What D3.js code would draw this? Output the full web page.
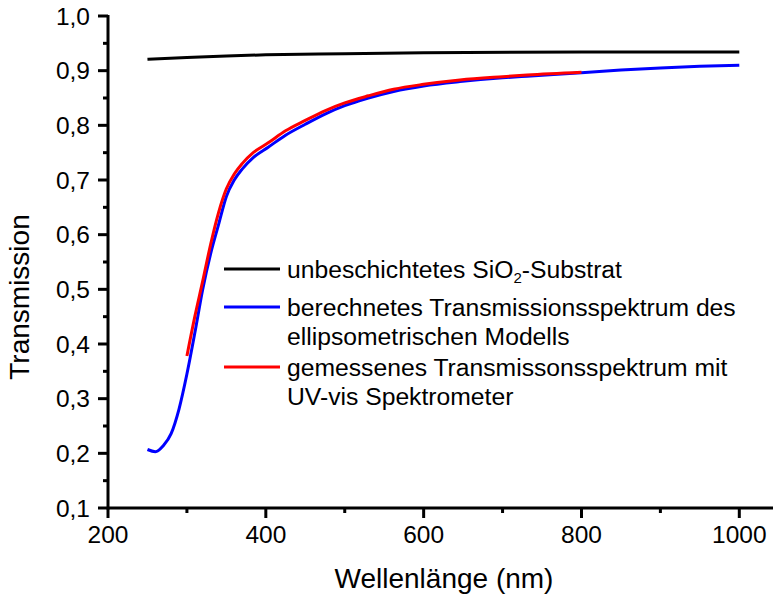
<!DOCTYPE html>
<html><head><meta charset="utf-8">
<script src="https://cdn.jsdelivr.net/npm/d3@7"></script>
<style>body{margin:0;background:#fff}svg{display:block}text{font-family:"Liberation Sans",Arial,sans-serif}</style>
</head><body><svg id="c" width="773" height="603"></svg>
<script>
const substrateX = [250,300,350,400,500,600,800,1000];
const substrateY = [0.921,0.924,0.927,0.929,0.931,0.933,0.934,0.934];
const modelX = [250,260,270,280,290,300,310,320,330,340,350,360,370,384,403,425,450,477,500,530,562,600,646,700,731,800,850,900,950,1000];
const modelY = [0.207,0.203,0.214,0.236,0.281,0.345,0.42,0.50,0.565,0.618,0.670,0.700,0.720,0.741,0.760,0.782,0.802,0.822,0.836,0.850,0.862,0.872,0.880,0.887,0.890,0.896,0.901,0.905,0.908,0.910];
const measX = [300,310,320,330,340,350,360,370,384,403,425,450,477,500,530,562,600,646,700,731,800];
const measY = [0.378,0.45,0.515,0.582,0.64,0.684,0.711,0.73,0.75,0.768,0.79,0.809,0.828,0.841,0.854,0.866,0.875,0.883,0.889,0.892,0.897];
const xTicks = [200,300,400,500,600,700,800,900,1000];
const yTicks = [0.1,0.2,0.3,0.4,0.5,0.6,0.7,0.8,0.9,1.0];
const yMinor = [0.15,0.25,0.35,0.45,0.55,0.65,0.75,0.85,0.95];

const svg = d3.select("#c");
const x = d3.scaleLinear().domain([200,1000]).range([108,739.3]);
const xMaxPx = 773;
const y = d3.scaleLinear().domain([0.1,1.0]).range([508,16]);

const line = d3.line().x(d=>x(d[0])).y(d=>y(d[1])).curve(d3.curveMonotoneX);
const series = [
  {xs:substrateX, ys:substrateY, color:"#000"},
  {xs:modelX, ys:modelY, color:"#0000ff"},
  {xs:measX, ys:measY, color:"#ff0000"}
];
series.forEach(s=>{
  svg.append("path").datum(s.xs.map((v,i)=>[v,s.ys[i]]))
    .attr("d",line).attr("fill","none").attr("stroke",s.color)
    .attr("stroke-width",3).attr("stroke-linejoin","round");
});

// axes
const fmt = v => d3.format(".1f")(v).replace(".",",");
const gx = svg.append("g").attr("transform","translate(0,508)");
gx.append("line").attr("x1",108).attr("x2",xMaxPx).attr("stroke","#000").attr("stroke-width",3);
gx.selectAll(".t").data(xTicks).join("line")
  .attr("x1",d=>x(d)).attr("x2",d=>x(d)).attr("y1",0).attr("y2",d=>d%200===0?10:5)
  .attr("stroke","#000").attr("stroke-width",3);
gx.selectAll("text").data(xTicks.filter(d=>d%200===0)).join("text")
  .attr("x",d=>x(d)).attr("y",35).attr("text-anchor","middle").attr("font-size",24.5).text(d=>d);

const gy = svg.append("g").attr("transform","translate(108,0)");
gy.append("line").attr("y1",y(1.0)-1).attr("y2",509.5).attr("stroke","#000").attr("stroke-width",3);
gy.selectAll(".t").data(yTicks).join("line")
  .attr("y1",d=>y(d)).attr("y2",d=>y(d)).attr("x1",0).attr("x2",-10)
  .attr("stroke","#000").attr("stroke-width",3);
gy.selectAll(".m").data(yMinor).join("line")
  .attr("y1",d=>y(d)).attr("y2",d=>y(d)).attr("x1",0).attr("x2",-5)
  .attr("stroke","#000").attr("stroke-width",3);
gy.selectAll("text").data(yTicks).join("text")
  .attr("x",-18).attr("y",d=>y(d)+8.5).attr("text-anchor","end").attr("font-size",24.5).text(fmt);

svg.append("text").attr("x",444).attr("y",588).attr("text-anchor","middle").attr("font-size",28).text("Wellenlänge (nm)");
svg.append("text").attr("transform","translate(29,297) rotate(-90)").attr("text-anchor","middle").attr("font-size",28).text("Transmission");

// legend
const leg = [
  {color:"#000", y:269, lines:["unbeschichtetes SiO|2|-Substrat"]},
  {color:"#0000ff", y:307, lines:["berechnetes Transmissionsspektrum des","ellipsometrischen Modells"]},
  {color:"#ff0000", y:367, lines:["gemessenes Transmissonsspektrum mit","UV-vis Spektrometer"]}
];
leg.forEach(l=>{
  svg.append("line").attr("x1",224).attr("x2",280).attr("y1",l.y).attr("y2",l.y).attr("stroke",l.color).attr("stroke-width",3);
  l.lines.forEach((t,i)=>{
    const tx = svg.append("text").attr("x",287).attr("y",l.y+8.5+i*29).attr("font-size",24.7);
    const parts = t.split("|");
    if(parts.length===3){
      tx.append("tspan").text(parts[0]);
      tx.append("tspan").attr("font-size",15).attr("dy",5).text(parts[1]);
      tx.append("tspan").attr("dy",-5).text(parts[2]);
    } else tx.text(t);
  });
});
</script></body></html>
